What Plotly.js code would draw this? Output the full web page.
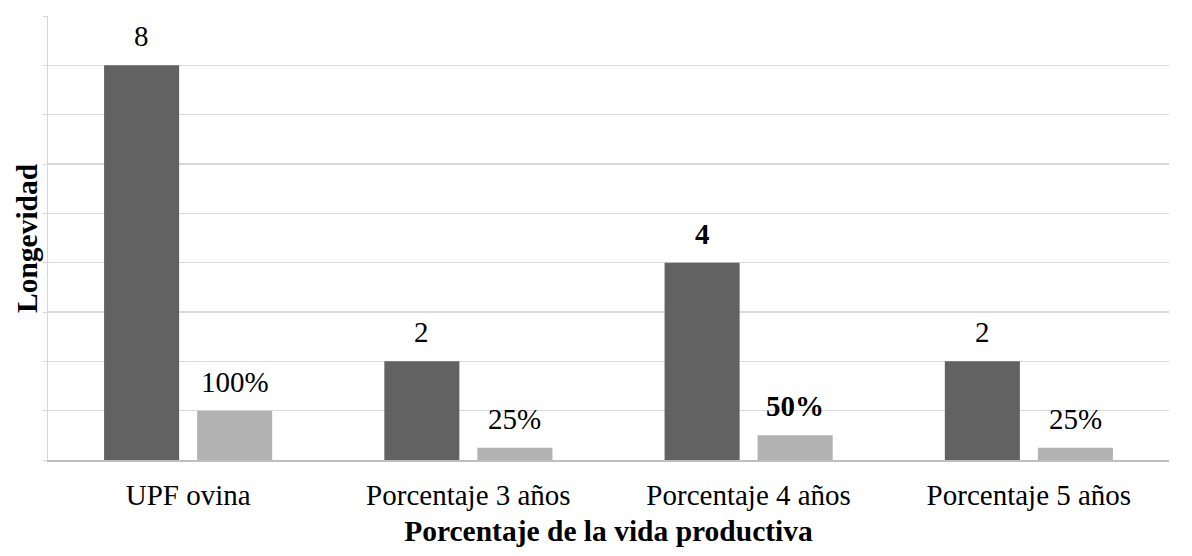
<!DOCTYPE html>
<html>
<head>
<meta charset="utf-8">
<script src="https://cdn.plot.ly/plotly-3.0.1.min.js"></script>
<style>
  body { margin: 0; background: #fff; }
  #chart { width: 1192px; height: 556px; }
</style>
</head>
<body>
<div id="chart"></div>
<script>
// categories and values
const categories = ['UPF ovina', 'Porcentaje 3 años', 'Porcentaje 4 años', 'Porcentaje 5 años'];
const longevidad = [8, 2, 4, 2];
const vidaProductiva = [1, 0.25, 0.5, 0.25];
const longevidadLabels = ['8', '2', '4', '2'];
const vidaLabels = ['100%', '25%', '50%', '25%'];
const boldIndex = 2;

const serif = '"Liberation Serif", "Times New Roman", Times, serif';

let traces = [
    {
        x: categories,
        y: longevidad,
        type: 'bar',
        name: 'Longevidad',
        marker: { color: '#626262' },
        hoverinfo: 'none'
    },
    {
        x: categories,
        y: vidaProductiva,
        type: 'bar',
        name: 'Vida productiva',
        marker: { color: '#b2b2b2' },
        hoverinfo: 'none'
    }
];

// value labels sit a bit higher above the bars than plotly's own outside text
let annotations = [];
categories.forEach((cat, i) => {
    let weight = (i === boldIndex) ? 'bold' : 'normal';
    annotations.push({
        x: cat, y: longevidad[i], xref: 'x', yref: 'y',
        text: longevidadLabels[i], showarrow: false,
        xshift: -46.5, yshift: 11, yanchor: 'bottom',
        font: { family: serif, size: 29, color: '#000', weight: weight }
    });
    annotations.push({
        x: cat, y: vidaProductiva[i], xref: 'x', yref: 'y',
        text: vidaLabels[i], showarrow: false,
        xshift: 46.5, yshift: 11, yanchor: 'bottom',
        font: { family: serif, size: 29, color: '#000', weight: weight }
    });
});

// y title as an annotation so it can sit closer to the axis
annotations.push({
    xref: 'paper', yref: 'paper', x: 0, y: 0.5,
    xshift: -21, textangle: -90, showarrow: false,
    xanchor: 'center', yanchor: 'middle',
    text: 'Longevidad',
    font: { family: serif, size: 29.5, color: '#000', weight: 'bold' }
});

let layout = {
    width: 1192,
    height: 556,
    margin: { l: 48, r: 23, t: 16, b: 96 },
    paper_bgcolor: '#fff',
    plot_bgcolor: '#fff',
    showlegend: false,
    barmode: 'group',
    bargap: 0.336,
    bargroupgap: 0.1935,
    font: { family: serif, size: 29, color: '#000' },
    xaxis: {
        showgrid: false,
        showline: true,
        linecolor: '#bfbfbf',
        linewidth: 1.5,
        ticks: '',
        ticklabelstandoff: 9,
        tickfont: { family: serif, size: 29, color: '#000' },
        title: {
            text: 'Porcentaje de la vida productiva',
            font: { family: serif, size: 29.5, color: '#000', weight: 'bold' },
            standoff: 10
        },
        automargin: false
    },
    yaxis: {
        range: [0, 9],
        dtick: 1,
        showticklabels: false,
        showgrid: true,
        gridcolor: '#d9d9d9',
        gridwidth: 1.3,
        zeroline: false,
        showline: true,
        linecolor: '#d6d6d6',
        linewidth: 1.3,
        ticks: 'outside',
        ticklen: 4,
        tickcolor: '#d6d6d6',
        automargin: false
    },
    annotations: annotations
};

Plotly.newPlot('chart', traces, layout, { displayModeBar: false, staticPlot: true });
</script>
</body>
</html>
